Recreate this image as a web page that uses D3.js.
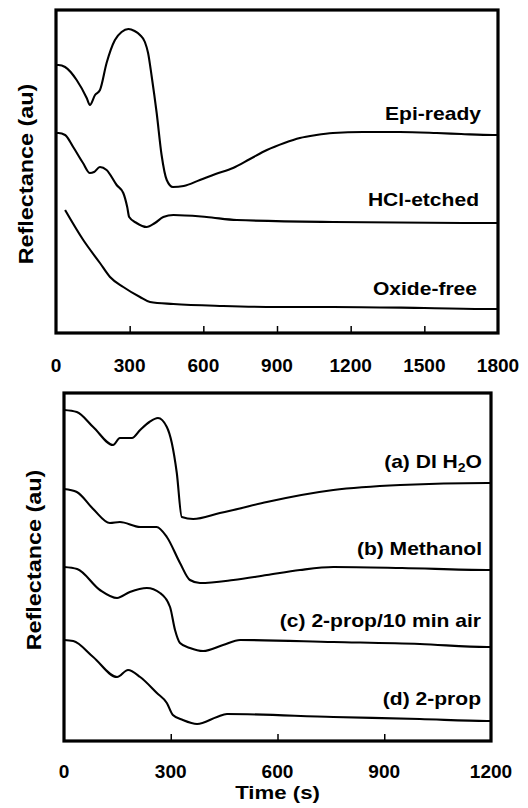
<!DOCTYPE html>
<html><head><meta charset="utf-8">
<script src="https://cdnjs.cloudflare.com/ajax/libs/d3/7.8.5/d3.min.js"></script>
<style>
html,body{margin:0;padding:0;background:#fff;}
svg{display:block;}
text{font-family:"Liberation Sans",Arial,Helvetica,sans-serif;font-weight:bold;fill:#000;}
</style></head>
<body>
<svg id="c" width="528" height="808"></svg>
<script>
// ---------- DATA (reflectance in arbitrary units) ----------
const topTicks = [0, 300, 600, 900, 1200, 1500, 1800];
const botTicks = [0, 300, 600, 900, 1200];

const epiT = [0,10,37,84,125,138,159,179,206,240,267,295,320,342,362,375,390,410,430,451,476,520,586,650,721,790,859,930,993,1060,1128,1250,1400,1550,1650,1780,1800];
const epiR = [268,268,266,253,235,228,238,243,270,293,301,304,302,298,291,280,256,220,178,153,146,147,153,159,165,174,183,190,195,198,200,201,201,200,199,198,198];

const hclT = [0,10,37,70,110,138,155,179,206,247,274,290,298,328,369,403,437,478,613,736,1128,1780,1800];
const hclR = [200,200,198,186,170,160,161,166,163,148,140,126,116,110,106,110,116,118,116,113,111,110,110];

const oxT = [37,111,179,220,274,342,383,478,681,900,1128,1500,1780,1800];
const oxR = [123,93,70,56,46,36,31,29,27,26,26,25,24,24];

const aT = [0,36,82,138,157,191,214,240,264,289,303,317,331,363,438,476,570,757,945,1189,1200];
const aR = [331,329,314,296,303,303,311,319,323,314,298,268,224,222,228,231,239,251,256,258,258];

const bT = [0,36,82,129,157,214,260,289,326,354,382,476,570,663,757,950,1189,1200];
const bR = [252,249,232,218,219,214,214,204,178,161,158,161,166,171,174,173,171,171];

const cT = [0,37,101,149,185,233,270,298,312,326,354,391,447,495,757,1000,1189,1200];
const cR = [174,172,151,143,149,153,148,134,111,98,93,90,96,101,99,97,94,94];

const dT = [0,26,82,149,180,214,261,289,306,334,374,430,458,757,1000,1189,1200];
const dR = [101,100,84,64,71,64,48,38,26,21,17,24,27,24,22,20,20];

const topLabels = ["Epi-ready", "HCl-etched", "Oxide-free"];
const botLabels = ["(a) DI H", "(b) Methanol", "(c) 2-prop/10 min air", "(d) 2-prop"];

// ---------- LAYOUT ----------
const svg = d3.select("#c");
const SX = 1.17;  // horizontal glyph stretch of the original lettering
const SXT = 1.06; // stretch of tick numbers

const P1 = {x0:56, x1:498, y0:10, y1:333, tmax:1800, rmax:323};
const P2 = {x0:64, x1:491, y0:393, y1:741, tmax:1200, rmax:348};

function panel(P, ticks, series, labels, labelPos, title, titleX, titleY){
  const x = d3.scaleLinear().domain([0, P.tmax]).range([P.x0, P.x1]);
  const y = d3.scaleLinear().domain([0, P.rmax]).range([P.y1, P.y0]);
  const g = svg.append("g");
  const ax = d3.axisTop(x).tickValues(ticks.filter(t => t > 0 && t < P.tmax)).tickSize(7).tickFormat("");
  g.append("g").attr("transform", `translate(0,${P.y1})`).call(ax)
    .call(s => { s.select(".domain").remove(); s.selectAll("line").attr("stroke","#000").attr("stroke-width",1.5); });
  ticks.forEach(t => {
    g.append("text").attr("transform", `translate(${x(t)},${P.y1 + (P === P1 ? 39 : 37)}) scale(${SXT},1)`)
      .attr("text-anchor","middle").attr("font-size", 18).text(t);
  });
  const line = d3.line().x(d => x(d[0])).y(d => y(d[1])).curve(d3.curveMonotoneX);
  series.forEach(([T, R]) => {
    g.append("path").datum(T.map((t,i) => [t, R[i]])).attr("d", line)
      .attr("fill","none").attr("stroke","#000").attr("stroke-width",2.1).attr("stroke-linejoin","round");
  });
  g.append("rect").attr("x",P.x0).attr("y",P.y0).attr("width",P.x1-P.x0).attr("height",P.y1-P.y0)
    .attr("fill","none").attr("stroke","#000").attr("stroke-width",3.2);
  labels.forEach((L,i) => {
    const t = g.append("text").attr("transform", `translate(${labelPos[i][0]},${labelPos[i][1]}) scale(${SX},1)`)
      .attr("text-anchor","end").attr("font-size",18);
    if (L === "(a) DI H") {
      t.append("tspan").text("(a) DI H");
      t.append("tspan").attr("font-size",12).attr("dy",4).text("2");
      t.append("tspan").attr("dy",-4).text("O");
    } else t.text(L);
  });
  svg.append("text").attr("transform", `translate(${titleX},${titleY}) rotate(-90) scale(${SX},1)`)
    .attr("text-anchor","middle").attr("font-size",20).text(title);
  return x;
}

panel(P1, topTicks, [[epiT,epiR],[hclT,hclR],[oxT,oxR]], topLabels,
      [[481,120],[479,206],[477,295]], "Reflectance (au)", 33, 174);
const x2 = panel(P2, botTicks, [[aT,aR],[bT,bR],[cT,cR],[dT,dR]], botLabels,
      [[482,468],[482,555],[481,627],[481,705]], "Reflectance (au)", 41, 560);

svg.append("text").attr("transform", `translate(${x2(600)},799) scale(${SX},1)`)
  .attr("text-anchor","middle").attr("font-size",19).text("Time (s)");
</script>
</body></html>
